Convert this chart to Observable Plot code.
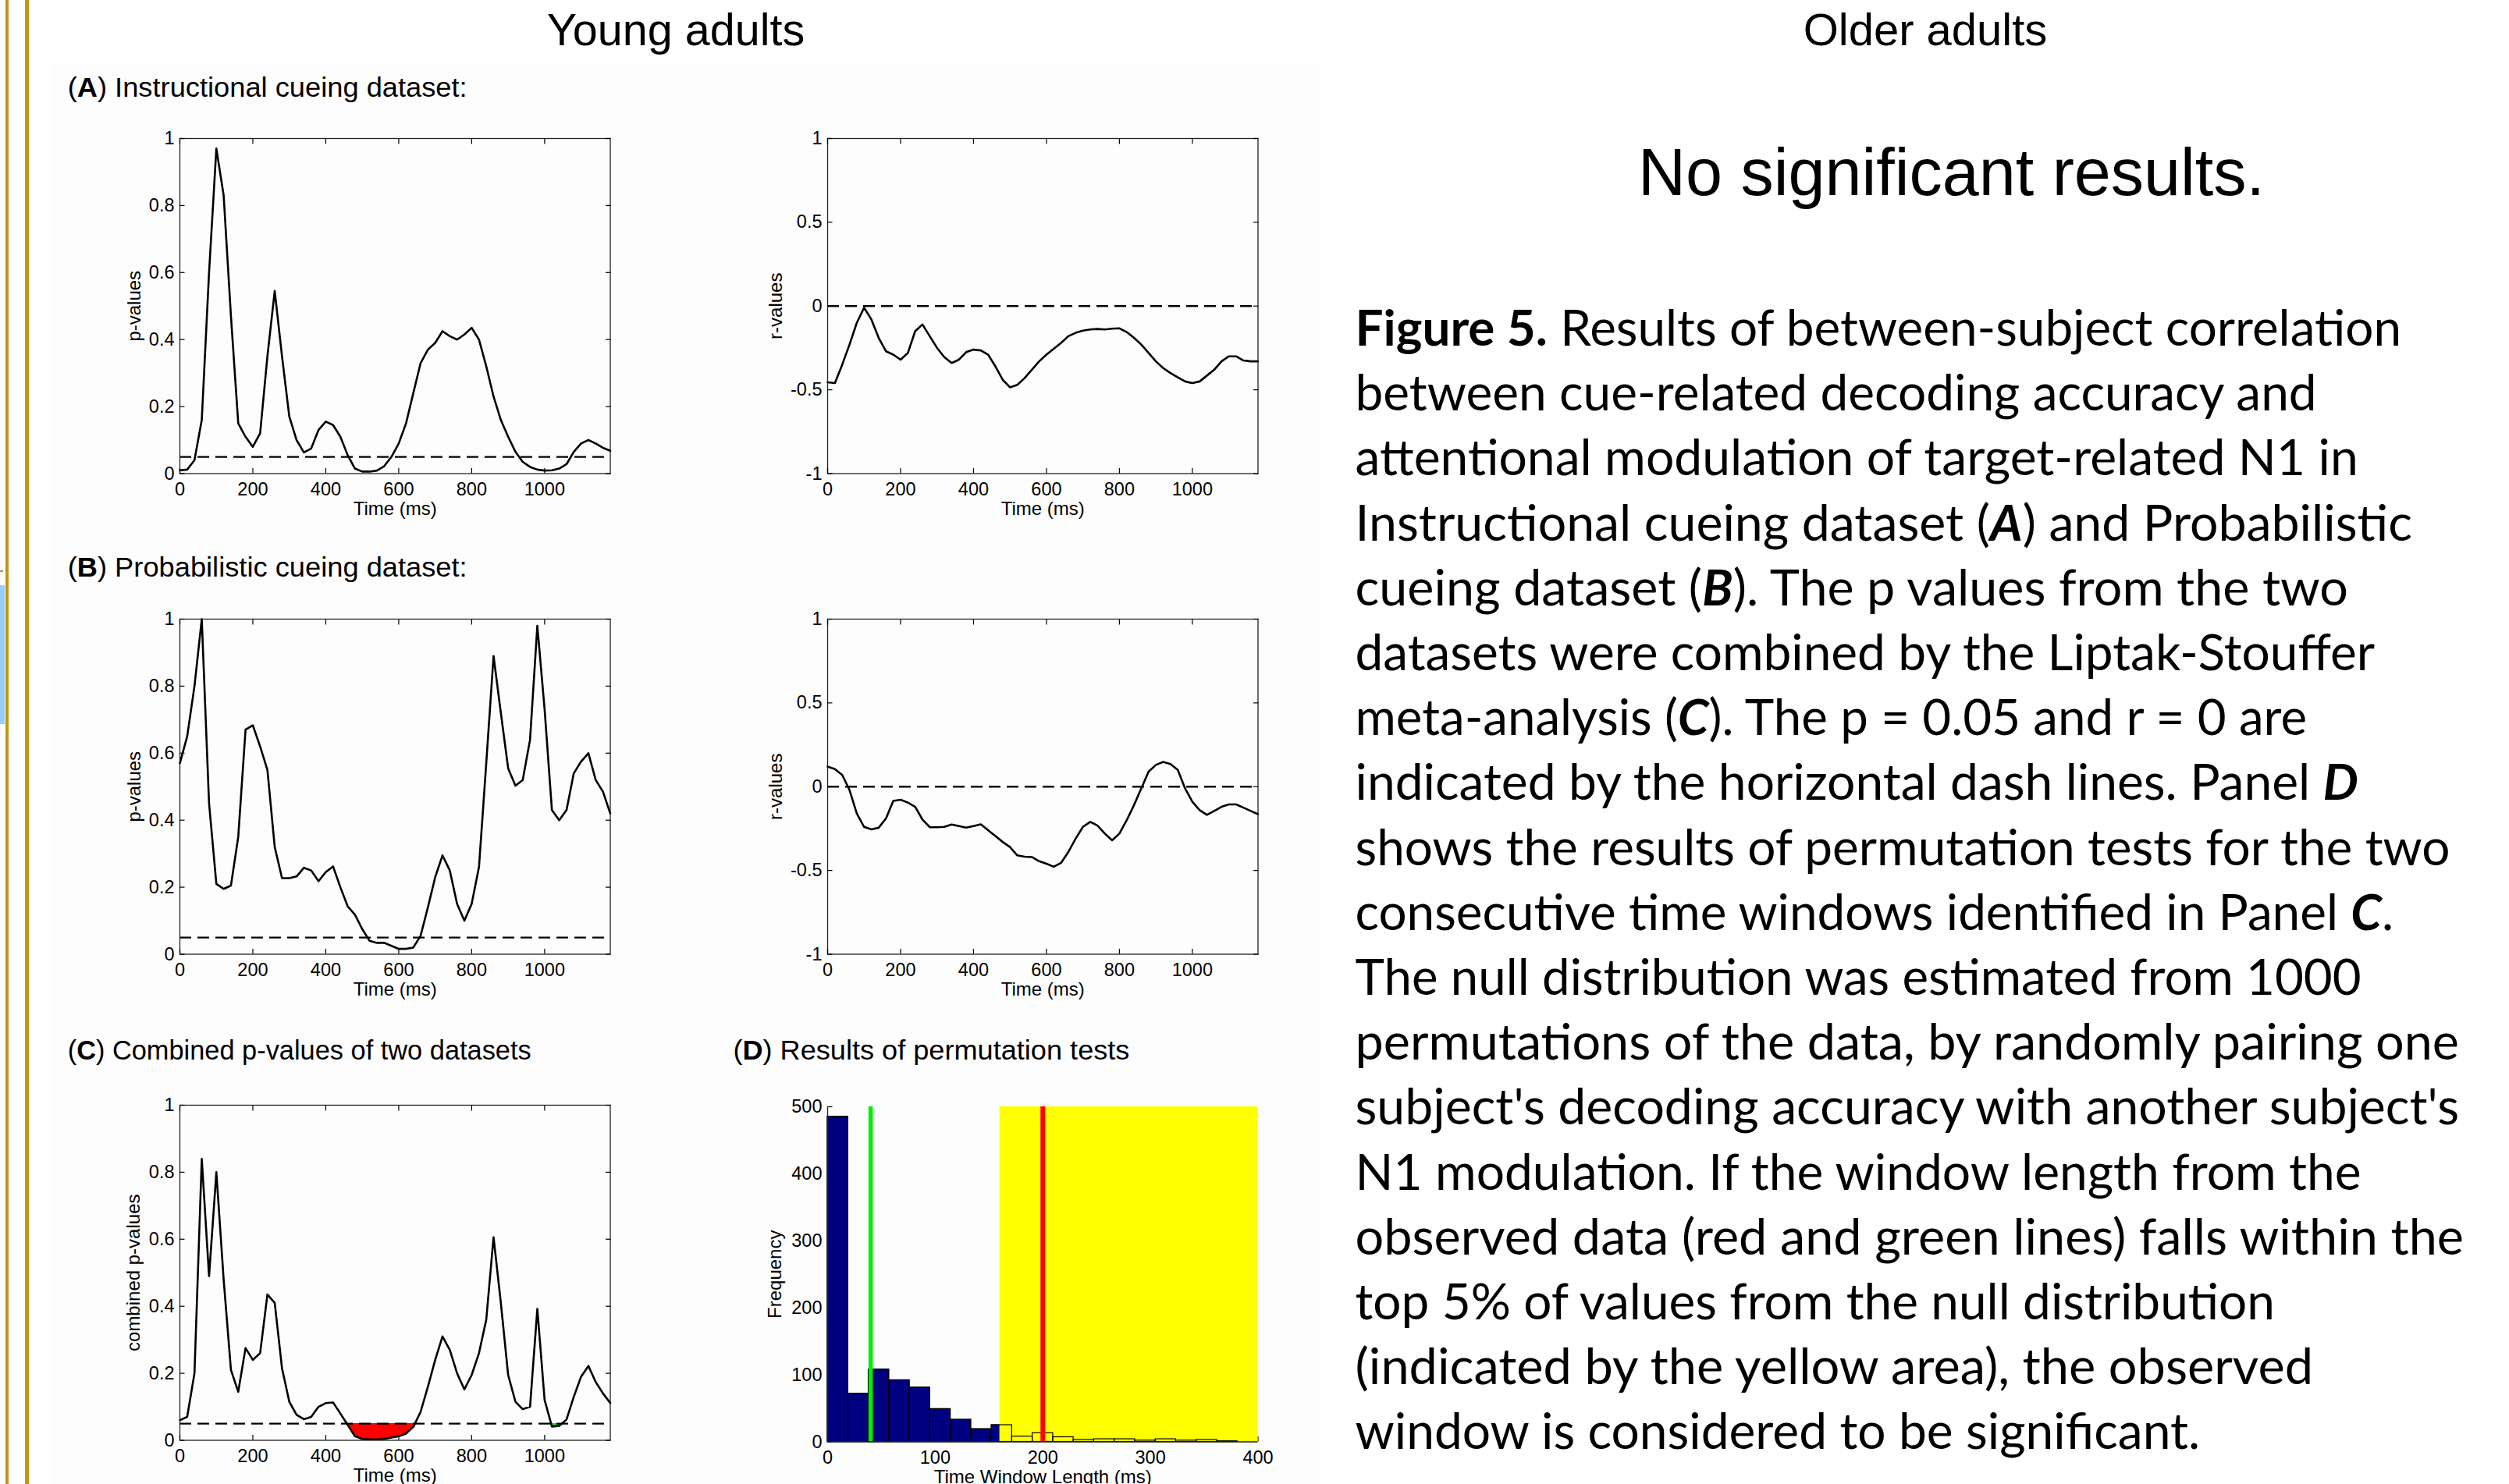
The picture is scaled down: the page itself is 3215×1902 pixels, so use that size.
<!DOCTYPE html>
<html>
<head>
<meta charset="utf-8">
<script src="https://cdn.jsdelivr.net/npm/d3@7"></script>
<script src="https://cdn.jsdelivr.net/npm/@observablehq/plot@0.6"></script>
<style>
  html, body { margin: 0; padding: 0; background: #fff; }
  #page { position: relative; width: 3215px; height: 1902px; overflow: hidden; background: #fff; }
  .deco { position: absolute; }
</style>
</head>
<body>
<div id="page"></div>
<script>
// ---------------- DATA ----------------
const timeMs = [0,20,40,60,80,100,120,140,160,180,200,220,240,260,280,300,320,340,360,380,
  400,420,440,460,480,500,520,540,560,580,600,620,640,660,680,700,720,740,760,780,
  800,820,840,860,880,900,920,940,960,980,1000,1020,1040,1060,1080,1100,1120,1140,1160,1180];
const timeTicks = [0, 200, 400, 600, 800, 1000];
const pTicks = [0, 0.2, 0.4, 0.6, 0.8, 1];
const rTicks = [-1, -0.5, 0, 0.5, 1];

// (A) Instructional cueing dataset
const pInstructional = [0.010,0.012,0.040,0.160,0.600,0.970,0.830,0.470,0.150,0.110,
  0.080,0.120,0.350,0.545,0.350,0.170,0.100,0.063,0.075,0.130,
  0.155,0.145,0.110,0.055,0.015,0.006,0.006,0.009,0.022,0.050,
  0.090,0.150,0.240,0.330,0.370,0.390,0.425,0.410,0.400,0.415,
  0.435,0.400,0.320,0.230,0.160,0.110,0.065,0.035,0.020,0.012,
  0.009,0.010,0.015,0.028,0.065,0.090,0.100,0.090,0.077,0.068];
const rInstructional = [-0.455,-0.46,-0.35,-0.23,-0.10,-0.01,-0.08,-0.19,-0.27,-0.29,
  -0.32,-0.28,-0.15,-0.11,-0.18,-0.25,-0.305,-0.34,-0.32,-0.275,
  -0.26,-0.265,-0.29,-0.36,-0.44,-0.485,-0.47,-0.43,-0.38,-0.33,
  -0.29,-0.255,-0.22,-0.18,-0.16,-0.147,-0.14,-0.137,-0.14,-0.135,
  -0.133,-0.155,-0.19,-0.23,-0.28,-0.33,-0.37,-0.40,-0.425,-0.45,
  -0.46,-0.45,-0.415,-0.38,-0.33,-0.30,-0.30,-0.325,-0.33,-0.33];

// (B) Probabilistic cueing dataset
const pProbabilistic = [0.57,0.65,0.80,1.00,0.45,0.21,0.195,0.205,0.35,0.67,
  0.683,0.62,0.55,0.32,0.227,0.227,0.232,0.258,0.25,0.218,
  0.245,0.262,0.20,0.143,0.118,0.075,0.04,0.034,0.034,0.025,
  0.016,0.016,0.02,0.055,0.14,0.23,0.295,0.25,0.15,0.10,
  0.15,0.26,0.57,0.89,0.72,0.555,0.503,0.52,0.64,0.98,
  0.73,0.43,0.40,0.43,0.54,0.575,0.60,0.52,0.485,0.42];
const rProbabilistic = [0.12,0.105,0.07,-0.02,-0.16,-0.24,-0.255,-0.245,-0.19,-0.085,
  -0.078,-0.095,-0.12,-0.196,-0.242,-0.242,-0.24,-0.226,-0.235,-0.244,
  -0.235,-0.225,-0.26,-0.295,-0.33,-0.36,-0.41,-0.418,-0.42,-0.445,
  -0.46,-0.478,-0.455,-0.39,-0.31,-0.24,-0.21,-0.232,-0.28,-0.32,
  -0.28,-0.20,-0.11,-0.01,0.09,0.13,0.148,0.135,0.10,-0.01,
  -0.09,-0.14,-0.168,-0.145,-0.12,-0.106,-0.106,-0.125,-0.145,-0.164];

// (C) Combined p-values (Liptak-Stouffer)
const pCombined = [0.06,0.07,0.20,0.84,0.49,0.80,0.48,0.21,0.145,0.275,
  0.24,0.26,0.435,0.41,0.215,0.115,0.076,0.063,0.07,0.10,
  0.111,0.113,0.08,0.046,0.012,0.004,0.003,0.003,0.004,0.008,
  0.012,0.02,0.04,0.085,0.16,0.24,0.31,0.27,0.20,0.152,
  0.195,0.26,0.36,0.606,0.41,0.195,0.115,0.093,0.10,0.392,
  0.12,0.041,0.043,0.062,0.13,0.19,0.222,0.174,0.14,0.111];
const pThreshold = 0.05;
const rThreshold = 0;

// (D) Permutation test: histogram of null time-window lengths
const permRange = [0, 400];
const permCounts = [485,72,108,92,81,49,33,19,25,8,13,7,3,4,4,2,4,2,3,1,0];
const permTicksX = [0, 100, 200, 300, 400];
const permTicksY = [0, 100, 200, 300, 400, 500];
const nullTop5Start = 160;   // start of top 5% of null distribution (yellow)
const observedGreen = 40;    // observed window length, green window
const observedRed = 200;     // observed window length, red window

// Texts
const headerYoung = "Young adults";
const headerOlder = "Older adults";
const olderNote = "No significant results.";
const captionLines = [
  [["Figure 5.", "b"], [" Results of between-subject correlation", ""]],
  [["between cue-related decoding accuracy and", ""]],
  [["attentional modulation of target-related N1 in", ""]],
  [["Instructional cueing dataset (", ""], ["A", "bi"], [") and Probabilistic", ""]],
  [["cueing dataset (", ""], ["B", "bi"], ["). The p values from the two", ""]],
  [["datasets were combined by the Liptak-Stouffer", ""]],
  [["meta-analysis (", ""], ["C", "bi"], ["). The p = 0.05 and r = 0 are", ""]],
  [["indicated by the horizontal dash lines. Panel ", ""], ["D", "bi"]],
  [["shows the results of permutation tests for the two", ""]],
  [["consecutive time windows identified in Panel ", ""], ["C", "bi"], [".", ""]],
  [["The null distribution was estimated from 1000", ""]],
  [["permutations of the data, by randomly pairing one", ""]],
  [["subject's decoding accuracy with another subject's", ""]],
  [["N1 modulation. If the window length from the", ""]],
  [["observed data (red and green lines) falls within the", ""]],
  [["top 5% of values from the null distribution", ""]],
  [["(indicated by the yellow area), the observed", ""]],
  [["window is considered to be significant.", ""]]
];

// ---------------- LAYOUT ----------------
const page = document.getElementById("page");
const FONT = '"Liberation Sans", Arial, Helvetica, sans-serif';
const FW = 551.5, FH = 429.5;
const M = {left: 110, right: 20, top: 20, bottom: 70};
const baseStyle = {fontFamily: FONT, fontSize: "23.5px", color: "#000", background: "transparent", overflow: "visible"};
const TICK = -6.5;          // inward ticks
const XPAD = 17.5;          // x tick label padding (net ~11px below frame)
const YPAD = 13.5;          // y tick label padding (net ~7px left of frame)

function deco(left, top, width, height, color) {
  const d = document.createElement("div");
  d.className = "deco";
  Object.assign(d.style, {left: left + "px", top: top + "px", width: width + "px", height: height + "px", background: color});
  page.appendChild(d);
}
// slide decorations
deco(65, 82, 1628, 1820, "#fdfdfd");
deco(6.5, 0, 4.5, 1902, "#c29418");
deco(32, 0, 4.5, 1902, "#c29418");
deco(0, 750, 5.5, 178, "#99ccff");
deco(0, 731, 4, 2, "#c29418");

function place(svg, frameLeft, frameTop) {
  svg.style.position = "absolute";
  svg.style.left = (frameLeft - M.left) + "px";
  svg.style.top = (frameTop - M.top) + "px";
  svg.style.maxWidth = "none";
  page.appendChild(svg);
}

function belowRuns(values, thr) {
  const runs = [];
  let cur = null;
  const cross = (i) => timeMs[i - 1] + (timeMs[i] - timeMs[i - 1]) * (values[i - 1] - thr) / (values[i - 1] - values[i]);
  for (let i = 0; i < values.length; i++) {
    const below = values[i] < thr;
    if (below) {
      if (!cur) {
        cur = [];
        if (i > 0) cur.push({t: cross(i), v: thr, base: thr});
      }
      cur.push({t: timeMs[i], v: values[i], base: thr});
    } else if (cur) {
      cur.push({t: cross(i), v: thr, base: thr});
      runs.push(cur);
      cur = null;
    }
  }
  if (cur) runs.push(cur);
  return runs;
}

function timePanel(values, {yDomain, yTicks, yLabel, yLabelOffset, refY, windows = []}) {
  const rows = timeMs.map((t, i) => ({t, v: values[i]}));
  const marks = [];
  windows.forEach(w => marks.push(Plot.areaY(w.rows, {x: "t", y1: "base", y2: "v", fill: w.color})));
  marks.push(
    Plot.ruleY([refY], {stroke: "#000", strokeWidth: 2.3, strokeDasharray: "15,8"}),
    Plot.line(rows, {x: "t", y: "v", stroke: "#000", strokeWidth: 2.6}),
    Plot.frame({stroke: "#222", strokeWidth: 1.3}),
    Plot.axisX(timeTicks, {anchor: "bottom", tickSize: TICK, tickPadding: XPAD, tickFormat: d => String(d), label: null, strokeWidth: 1.2}),
    Plot.axisX(timeTicks, {anchor: "top", tickSize: TICK, tickFormat: () => "", label: null, strokeWidth: 1.2}),
    Plot.axisY(yTicks, {anchor: "left", tickSize: TICK, tickPadding: YPAD, tickFormat: d => String(d), label: null, strokeWidth: 1.2}),
    Plot.axisY(yTicks, {anchor: "right", tickSize: TICK, tickFormat: () => "", label: null, strokeWidth: 1.2}),
    Plot.text([yLabel], {text: d => d, frameAnchor: "left", dx: -yLabelOffset, rotate: -90, textAnchor: "middle", lineAnchor: "middle", fontSize: 24}),
    Plot.text(["Time (ms)"], {text: d => d, frameAnchor: "bottom", dy: 45.3, textAnchor: "middle", lineAnchor: "middle", fontSize: 24})
  );
  return Plot.plot({
    width: M.left + FW + M.right, height: M.top + FH + M.bottom,
    marginLeft: M.left, marginRight: M.right, marginTop: M.top, marginBottom: M.bottom,
    style: baseStyle,
    x: {domain: [0, 1180]},
    y: {domain: yDomain},
    marks
  });
}

// (A)
place(timePanel(pInstructional, {yDomain: [0, 1], yTicks: pTicks, yLabel: "p-values", yLabelOffset: 58, refY: pThreshold}), 230.3, 176.5);
place(timePanel(rInstructional, {yDomain: [-1, 1], yTicks: rTicks, yLabel: "r-values", yLabelOffset: 66.5, refY: rThreshold}), 1060.3, 176.5);
// (B)
place(timePanel(pProbabilistic, {yDomain: [0, 1], yTicks: pTicks, yLabel: "p-values", yLabelOffset: 58, refY: pThreshold}), 230.3, 792.7);
place(timePanel(rProbabilistic, {yDomain: [-1, 1], yTicks: rTicks, yLabel: "r-values", yLabelOffset: 66.5, refY: rThreshold}), 1060.3, 792.7);
// (C)
const windowColors = ["#ff0000", "#19e019"];
const runs = belowRuns(pCombined, pThreshold).map((rows, i) => ({rows, color: windowColors[i % 2]}));
place(timePanel(pCombined, {yDomain: [0, 1], yTicks: pTicks, yLabel: "combined p-values", yLabelOffset: 59.5, refY: pThreshold, windows: runs}), 230.3, 1416.3);

// (D)
(function () {
  const bw = (permRange[1] - permRange[0]) / permCounts.length;
  const bins = permCounts.map((c, i) => ({x1: permRange[0] + i * bw, x2: permRange[0] + (i + 1) * bw, c}));
  const svg = Plot.plot({
    width: M.left + FW + M.right, height: M.top + FH + M.bottom,
    marginLeft: M.left, marginRight: M.right, marginTop: M.top, marginBottom: M.bottom,
    style: baseStyle,
    x: {domain: permRange},
    y: {domain: [0, 500]},
    marks: [
      Plot.axisX(permTicksX, {anchor: "bottom", tickSize: TICK, tickPadding: XPAD, tickFormat: d => String(d), label: null, strokeWidth: 1.2}),
      Plot.axisY(permTicksY, {anchor: "left", tickSize: TICK, tickPadding: YPAD, tickFormat: d => String(d), label: null, strokeWidth: 1.2}),
      Plot.rectY(bins, {x1: "x1", x2: "x2", y: "c", fill: "#000080", stroke: "#000", strokeWidth: 1}),
      Plot.rect([{a: nullTop5Start, b: permRange[1]}], {x1: "a", x2: "b", y1: () => 0, y2: () => 500, fill: "#ffff00"}),
      Plot.rectY(bins, {x1: "x1", x2: "x2", y: "c", fill: "none", stroke: "#000", strokeWidth: 1.2}),
      Plot.ruleX([observedGreen], {stroke: "#00ee00", strokeWidth: 5.5}),
      Plot.ruleX([observedRed], {stroke: "#ff0000", strokeWidth: 6}),
      Plot.ruleX([0], {stroke: "#222", strokeWidth: 1.3}),
      Plot.ruleY([0], {stroke: "#222", strokeWidth: 1.3}),
      Plot.text(["Frequency"], {text: d => d, frameAnchor: "left", dx: -67.5, rotate: -90, textAnchor: "middle", lineAnchor: "middle", fontSize: 24}),
      Plot.text(["Time Window Length (ms)"], {text: d => d, frameAnchor: "bottom", dy: 45.3, textAnchor: "middle", lineAnchor: "middle", fontSize: 24})
    ]
  });
  place(svg, 1059.8, 1418.2);
})();

// ---------------- TEXT OVERLAY ----------------
const esc = s => s.replace(/&/g, "&amp;").replace(/</g, "&lt;");
let o = `<svg xmlns="http://www.w3.org/2000/svg" width="3215" height="1902" style="position:absolute;left:0;top:0;overflow:visible">`;
o += `<g font-family='${FONT}' fill="#000">`;
o += `<text x="866" y="58" font-size="57.5" text-anchor="middle">${headerYoung}</text>`;
o += `<text x="2467" y="58" font-size="58" text-anchor="middle">${headerOlder}</text>`;
o += `<text x="2500.5" y="250" font-size="84.5" text-anchor="middle">${olderNote}</text>`;
const panelTitles = [
  {letter: "A", rest: " Instructional cueing dataset:", x: 86.7, y: 123.5, w: 512},
  {letter: "B", rest: " Probabilistic cueing dataset:", x: 86.7, y: 739, w: 512},
  {letter: "C", rest: " Combined p-values of two datasets", x: 86.7, y: 1358, w: 594},
  {letter: "D", rest: " Results of permutation tests", x: 939.4, y: 1358, w: 508}
];
panelTitles.forEach(p => {
  o += `<text x="${p.x}" y="${p.y}" font-size="35.5" textLength="${p.w}" lengthAdjust="spacingAndGlyphs">(<tspan font-weight="bold">${p.letter}</tspan>)${esc(p.rest)}</text>`;
});
o += `</g>`;
// caption
const capX = 1736.5, capY0 = 443, capDy = 83.2;
const capEnds = [3077, 2968.6, 3021.7, 3091, 3009, 3043, 2956, 3022, 3139.6, 3067, 3025.6, 3151, 3151, 3025.6, 3157, 2915, 2964, 2819];
o += `<g font-family="Lato, 'Open Sans', sans-serif" font-size="64" fill="#000">`;
captionLines.forEach((segs, i) => {
  const inner = segs.map(([t, st]) => {
    const attrs = (st.includes("b") ? ` font-weight="bold"` : "") + (st.includes("i") ? ` font-style="italic"` : "");
    return attrs ? `<tspan${attrs}>${esc(t)}</tspan>` : esc(t);
  }).join("");
  o += `<text x="${capX}" y="${capY0 + i * capDy}" textLength="${capEnds[i] - capX}" lengthAdjust="spacingAndGlyphs" xml:space="preserve">${inner}</text>`;
});
o += `</g></svg>`;
const holder = document.createElement("div");
holder.innerHTML = o;
page.appendChild(holder.firstChild);
</script>
</body>
</html>
